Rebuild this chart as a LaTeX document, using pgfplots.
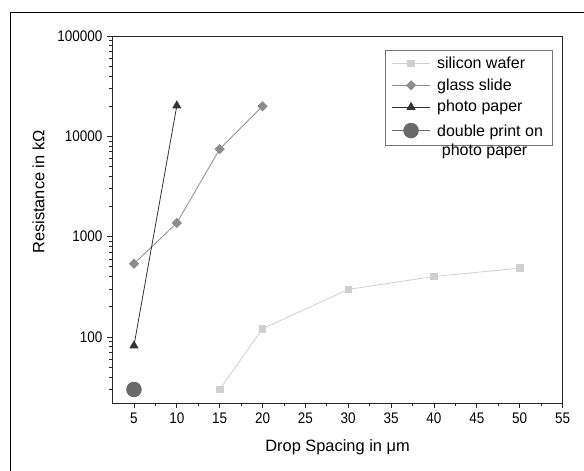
\documentclass[border=0pt]{standalone}
\usepackage{fontspec}
\setmainfont{Liberation Sans}
\newfontfamily\narrowsans{Liberation Sans}[FakeStretch=0.88]
\usepackage{pgfplots}
\pgfplotsset{compat=1.18}

\definecolor{silicon}{HTML}{CFCFCF}
\definecolor{glass}{HTML}{8C8C8C}
\definecolor{photo}{HTML}{333333}
\definecolor{dblprint}{HTML}{6A6A6A}

\begin{document}
\begin{tikzpicture}
% page = 584x470 px at 0.75pt per px
\useasboundingbox (-84.4pt,-50.5pt) rectangle (353.6pt,302.25pt);
\begin{axis}[
    scale only axis,
    width=337.5pt,
    height=275.25pt,
    ymode=log,
    xmin=2.5, xmax=55,
    ymin=22, ymax=100000,
    xtick={5,10,...,55},
    minor xtick={7.5,12.5,...,52.5},
    ytick={100,1000,10000,100000},
    yticklabels={100,1000,10000,100000},
    minor ytick={30,40,50,60,70,80,90,200,300,400,500,600,700,800,900,
        2000,3000,4000,5000,6000,7000,8000,9000,
        20000,30000,40000,50000,60000,70000,80000,90000},
    tick align=outside,
    xtick pos=left, ytick pos=left,
    major tick length=4pt,
    minor tick length=2.6pt,
    axis line style={black!85, line width=0.7pt},
    every tick/.style={black!85, line width=0.6pt},
    /pgf/number format/assume math mode=true,
    tick label style={font=\narrowsans\fontsize{11.5}{13}\selectfont},
    xlabel={Drop Spacing in μm},
    ylabel={Resistance in kΩ},
    every axis x label/.style={at={(rel axis cs:0.5,0)}, yshift=-33.5pt, anchor=center,
        font=\fontsize{12.3}{14}\selectfont},
    every axis y label/.style={at={(rel axis cs:0,0.575)}, xshift=-55.5pt, rotate=90, anchor=center,
        font=\fontsize{12.3}{14}\selectfont},
    legend style={
        at={(rel axis cs:0.978,0.961)}, anchor=north east,
        draw=black!55, line width=0.5pt,
        font=\fontsize{12}{15.75}\selectfont,
        row sep=2.2pt, column sep=3pt, inner xsep=5pt, inner ysep=2.5pt,
        cells={anchor=west}
    },
    legend image code/.code={
        \draw[mark repeat=2, mark phase=2] plot coordinates {(0cm,0cm) (0.5cm,0cm) (1cm,0cm)};
    },
]
\addplot[silicon, line width=0.6pt, mark=square*, mark size=2.5pt, mark options={solid, fill=silicon, draw=silicon}]
coordinates {(15,30) (20,121) (30,298) (40,401) (50,485)};
\addlegendentry{silicon wafer}
\addplot[glass, line width=0.6pt, mark=square*, mark size=2.4pt, mark options={rotate=45, fill=glass, draw=glass}]
coordinates {(5,537) (10,1370) (15,7460) (20,19950)};
\addlegendentry{glass slide}
\addplot[photo, line width=0.6pt, mark=triangle*, mark size=3.4pt, mark options={fill=photo, draw=photo}]
coordinates {(5,82) (10,20200)};
\addlegendentry{photo paper}
\addplot[dblprint, line width=0.6pt, mark=*, mark size=5.5pt, mark options={fill=dblprint, draw=dblprint}]
coordinates {(5,30)};
\addlegendentry{\begin{tabular}[t]{@{}l@{}}double print on\\[-1.8pt]\hspace{0.3em}photo paper\end{tabular}}
\end{axis}
\draw[line width=1.1pt, black] (-76.35pt,-80pt) -- (-76.35pt,292.75pt) -- (400pt,292.75pt);
\end{tikzpicture}
\end{document}
